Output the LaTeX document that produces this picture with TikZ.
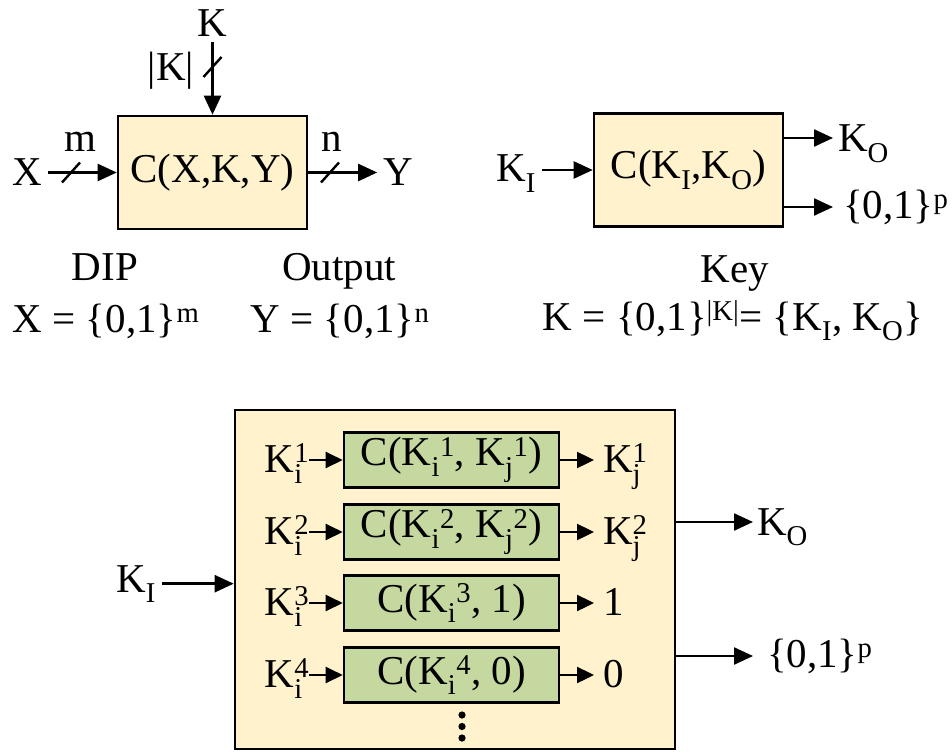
\documentclass[tikz,border=0pt]{standalone}
\usepackage{fontspec}
\setmainfont{Liberation Serif}
\usetikzlibrary{arrows.meta,calc}
\definecolor{boxfill}{RGB}{255,242,204}
\definecolor{cellfill}{RGB}{197,216,160}
\newcommand{\bigtxt}{\fontsize{41}{49}\selectfont}
\newcommand{\stk}[2]{$\mathrm{K}^{\mathrm{#1}}_{\mathrm{#2}}$}
\tikzset{
  blk/.style={draw=black,line width=2.6pt,fill=boxfill,minimum width=189pt,minimum height=113pt,
    inner sep=0pt,align=center},
  cell/.style={blk,fill=cellfill,minimum width=215pt,minimum height=55pt},
  lbl/.style={inner sep=0pt,outer sep=6pt},
  sig/.style={-{Triangle[length=19pt,width=17pt]},line width=2.4pt},
  sigs/.style={-{Triangle[length=17pt,width=16pt]},line width=2.4pt},
  busmark/.style={line width=2.4pt}
}

\begin{document}
\begin{tikzpicture}[x=1pt,y=-1pt,font=\bigtxt]
  \useasboundingbox (0,0) rectangle (952,754);
  % circle with inputs X, K and output Y
  \node[blk] (dip) at (212.5,172.5) {C(X,K,Y)};
  \node[lbl] (xlab) at (27,172.5) {X};
  \node[lbl] (ylab) at (398,172.5) {Y};
  \node[lbl] (klab) at (212.5,23) {K};
  \draw[sig] (xlab) -- (dip);
  \draw[sig] (dip) -- (ylab);
  \draw[sig] (klab) -- (dip);
  \coordinate (sx) at (71,172.5);
  \coordinate (sy) at (330,172.5);
  \coordinate (sk) at (212.5,67);
  \foreach \s in {sx,sy,sk}
    \draw[busmark] ($(\s)+(-9,10)$) -- ($(\s)+(9,-10)$);
  \node[lbl] (mlab) at (80,142) {m};
  \node[lbl] (nlab) at (332,142) {n};
  \node[lbl] (klen) at (171,71) {|K|};
  \node[lbl,anchor=base] (diplab) at (105,280) {DIP};
  \node[lbl,anchor=base] (xset) at (106,332) {X = \{0,1\}\textsuperscript{m}};
  \node[lbl,anchor=base] (outlab) at (339,280) {Output};
  \node[lbl,anchor=base] (yset) at (340,332) {Y = \{0,1\}\textsuperscript{n}};

  % key circuit
  \node[blk] (kbox) at (688.5,170) {C(K\textsubscript{I},K\textsubscript{O})};
  \node[lbl,anchor=base] (kil) at (516,182) {K\textsubscript{I}};
  \draw[sig] (kil.east |- kbox.west) -- (kbox.west);
  \coordinate (ko) at (833,138);
  \coordinate (kp) at (833,207);
  \draw[sig] (kbox.east |- ko) -- (ko);
  \draw[sig] (kbox.east |- kp) -- (kp);
  \node[lbl,anchor=base west,outer sep=0pt] (kol) at (838,152) {K\textsubscript{O}};
  \node[lbl,anchor=base west,outer sep=0pt] (kpl) at (843,218) {\{0,1\}\textsuperscript{p}};
  \node[lbl,anchor=base] (keylab) at (735,282) {Key};
  \node[lbl,anchor=base] (kset) at (733,330) {K = \{0,1\}\textsuperscript{|K|}= \{K\textsubscript{I}, K\textsubscript{O}\}};

  % key circuit split into sub-circuits
  \node[blk,minimum width=440pt,minimum height=339pt] (outer) at (455,579.5) {};
  \node[lbl,anchor=base] (kin) at (136,592) {K\textsubscript{I}};
  \draw[sig] (kin.east) -- (kin.east -| outer.west);
  \coordinate (rx) at (594,0);
  \foreach \r/\yy/\txt/\out in {
      1/460/{C(K\textsubscript{i}\textsuperscript{1}, K\textsubscript{j}\textsuperscript{1})}/{\stk{1}{j}},
      2/532/{C(K\textsubscript{i}\textsuperscript{2}, K\textsubscript{j}\textsuperscript{2})}/{\stk{2}{j}},
      3/603/{C(K\textsubscript{i}\textsuperscript{3}, 1)}/{1},
      4/675/{C(K\textsubscript{i}\textsuperscript{4}, 0)}/{0}} {
    \node[cell] (c\r) at (451.5,\yy) {\txt};
    \node[lbl,anchor=base,outer sep=0pt] (l\r) at (287,\yy+12) {\stk{\r}{i}};
    \node[lbl,anchor=base west,outer sep=0pt] (r\r) at (603,\yy+12) {\out};
    \draw[sigs] (c\r.west -| l\r.east) -- (c\r.west);
    \draw[sigs] (c\r.east) -- (c\r.east -| rx);
  }
  \foreach \dy in {715,726.5,738}
    \fill (462,\dy) circle (3.6);
  \coordinate (oko) at (753,522);
  \coordinate (okp) at (753,656);
  \draw[sig] (outer.east |- oko) -- (oko);
  \draw[sig] (outer.east |- okp) -- (okp);
  \node[lbl,anchor=base west,outer sep=0pt] (okol) at (757,535) {K\textsubscript{O}};
  \node[lbl,anchor=base west,outer sep=0pt] (okpl) at (767,667) {\{0,1\}\textsuperscript{p}};
\end{tikzpicture}
\end{document}
